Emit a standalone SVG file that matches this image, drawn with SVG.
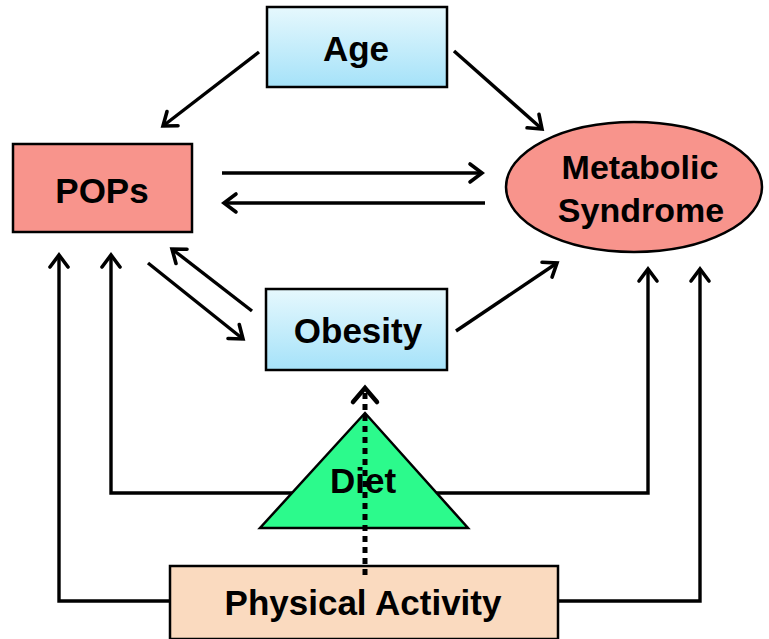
<svg xmlns="http://www.w3.org/2000/svg" width="769" height="639" viewBox="0 0 769 639">
<defs>
<linearGradient id="blue" x1="0" y1="0" x2="0" y2="1">
<stop offset="0" stop-color="#e6f8fd"/>
<stop offset="1" stop-color="#a5e2f9"/>
</linearGradient>
<marker id="arr" markerUnits="userSpaceOnUse" viewBox="-16 -12 20 24" refX="0" refY="0" markerWidth="20" markerHeight="24" orient="auto" overflow="visible">
<path d="M-12,-9 L0,0 L-12,9" fill="none" stroke="#000" stroke-width="3.6" stroke-linecap="round" stroke-linejoin="miter"/>
</marker>
<marker id="arrd" markerUnits="userSpaceOnUse" viewBox="-16 -14 20 28" refX="0" refY="0" markerWidth="20" markerHeight="28" orient="auto" overflow="visible">
<path d="M-14,-12 L0,0 L-14,12" fill="none" stroke="#000" stroke-width="4.5" stroke-linecap="round" stroke-linejoin="miter"/>
</marker>
</defs>
<style>
.box{stroke:#000;stroke-width:2.5}
.lbl{font-family:"Liberation Sans",Arial,sans-serif;font-weight:bold;font-size:35px;text-anchor:middle;fill:#000}
.c{fill:none;stroke:#000;stroke-width:3.4}
</style>
<rect width="769" height="639" fill="#fff"/>
<g id="connectors">
<line class="c" x1="259" y1="52" x2="163" y2="126" marker-end="url(#arr)"/>
<line class="c" x1="454" y1="51" x2="542" y2="129" marker-end="url(#arr)"/>
<line class="c" x1="222" y1="173" x2="482" y2="173" marker-end="url(#arr)"/>
<line class="c" x1="485" y1="203" x2="224" y2="203" marker-end="url(#arr)"/>
<line class="c" x1="148" y1="263" x2="243" y2="339" marker-end="url(#arr)"/>
<line class="c" x1="252" y1="311" x2="172" y2="249" marker-end="url(#arr)"/>
<line class="c" x1="456" y1="331" x2="557" y2="263" marker-end="url(#arr)"/>
<polyline class="c" points="300,493 111,493 111,255" marker-end="url(#arr)"/>
<polyline class="c" points="430,493 648,493 648,269" marker-end="url(#arr)"/>
<polyline class="c" points="172,601 59,601 59,255" marker-end="url(#arr)"/>
<polyline class="c" points="556,601 700,601 700,269" marker-end="url(#arr)"/>
</g>
<g id="age">
<rect class="box" x="267" y="7" width="180" height="80" fill="url(#blue)"/>
<text class="lbl" x="356" y="61">Age</text>
</g>
<g id="pops">
<rect class="box" x="13" y="144" width="179" height="88" fill="#f8948c"/>
<text class="lbl" x="102" y="203">POPs</text>
</g>
<g id="metabolic-syndrome">
<ellipse class="box" cx="634" cy="187" rx="128" ry="65" fill="#f8948c"/>
<text class="lbl" style="font-size:34px" x="640" y="179">Metabolic</text>
<text class="lbl" style="font-size:34px" x="641" y="222">Syndrome</text>
</g>
<g id="obesity">
<rect class="box" x="266" y="289" width="181" height="81" fill="url(#blue)"/>
<text class="lbl" x="358" y="343">Obesity</text>
</g>
<g id="diet">
<polygon class="box" points="365,413 468,528 260,528" fill="#2cfa8c"/>
<text class="lbl" x="363" y="493">Diet</text>
</g>
<g id="physical-activity">
<rect class="box" x="170" y="566" width="388" height="73" fill="#fadabf"/>
<text class="lbl" x="363" y="615">Physical Activity</text>
</g>
<g id="dotted">
<line x1="365" y1="575" x2="365" y2="388" stroke="#000" stroke-width="5" stroke-dasharray="6,5" marker-end="url(#arrd)"/>
</g>
</svg>
